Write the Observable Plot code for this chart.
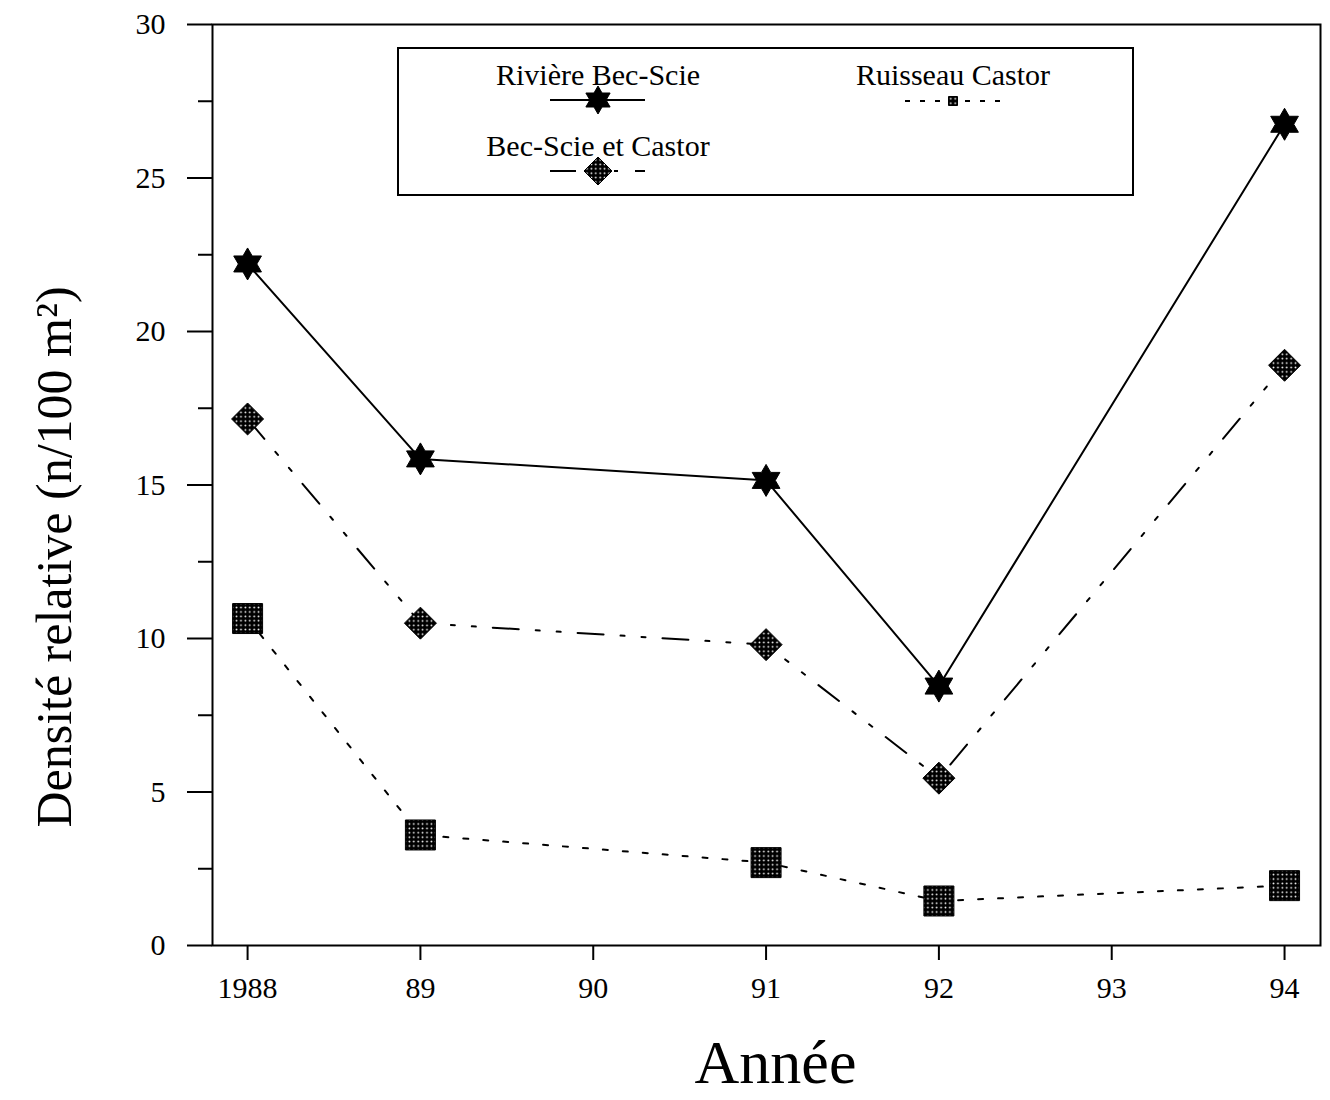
<!DOCTYPE html>
<html><head><meta charset="utf-8">
<script src="https://cdn.jsdelivr.net/npm/d3@7"></script>
<script src="https://cdn.jsdelivr.net/npm/@observablehq/plot@0.6"></script>
<style>body{margin:0;background:#fff}</style>
</head><body>
<svg width="0" height="0" style="position:absolute"><defs>
<pattern id="dither" width="4.4" height="4.4" patternUnits="userSpaceOnUse">
<rect width="4.4" height="4.4" fill="#000"/><circle cx="2.2" cy="2.2" r="0.9" fill="#fff"/></pattern>
</defs></svg>
<div id="chart"></div>
<script>
// ---- data ----
const years = [1988, 1989, 1991, 1992, 1994];
const becScie = [22.2, 15.85, 15.15, 8.45, 26.75];
const becScieCastor = [17.15, 10.5, 9.8, 5.45, 18.9];
const castor = [10.65, 3.6, 2.7, 1.45, 1.95];
const seriesNames = ["Rivière Bec-Scie", "Ruisseau Castor", "Bec-Scie et Castor"];
const xTicks = [1988, 1989, 1990, 1991, 1992, 1993, 1994];
const xTickLabels = ["1988", "89", "90", "91", "92", "93", "94"];
const yTicks = [0, 5, 10, 15, 20, 25, 30];
const yMinorTicks = [2.5, 7.5, 12.5, 17.5, 22.5, 27.5];
const xTitle = "Année";
const yTitle = "Densité relative (n/100 m²)";

// ---- symbols ----
const hexagram = {draw(ctx, size) {
  const R = Math.sqrt(size / Math.PI), r = R / Math.sqrt(3);
  for (let i = 0; i < 12; i++) {
    const a = Math.PI / 6 * i - Math.PI / 2, rr = i % 2 ? r : R;
    const x = rr * Math.cos(a), y = rr * Math.sin(a);
    i ? ctx.lineTo(x, y) : ctx.moveTo(x, y);
  }
  ctx.closePath();
}};
const diamond = {draw(ctx, size) {
  const R = Math.sqrt(size / Math.PI);
  ctx.moveTo(0, -R); ctx.lineTo(R, 0); ctx.lineTo(0, R); ctx.lineTo(-R, 0); ctx.closePath();
}};
const square = {draw(ctx, size) {
  const R = Math.sqrt(size / Math.PI);
  ctx.moveTo(-R, -R); ctx.lineTo(R, -R); ctx.lineTo(R, R); ctx.lineTo(-R, R); ctx.closePath();
}};

const series = [
  {name: seriesNames[0], values: becScie, dash: null, symbol: hexagram, fill: "black", r: 16},
  {name: seriesNames[1], values: castor, dash: "5,15", symbol: square, fill: "url(#dither)", r: 15},
  {name: seriesNames[2], values: becScieCastor, dash: "26,17,4,17,4,17", symbol: diamond, fill: "url(#dither)", r: 16}
];
const rows = series.flatMap(s => years.map((yr, i) => ({series: s.name, year: yr, value: s.values[i]})));

const marks = [Plot.frame({stroke: "black", strokeWidth: 2})];
for (const s of series) {
  const d = rows.filter(r => r.series === s.name);
  marks.push(Plot.line(d, {x: "year", y: "value", stroke: "black", strokeWidth: 2, strokeDasharray: s.dash || undefined}));
}
for (const s of series) {
  const d = rows.filter(r => r.series === s.name);
  marks.push(Plot.dot(d, {x: "year", y: "value", symbol: s.symbol, r: s.r, fill: s.fill, stroke: "black", strokeWidth: 1}));
}
marks.push(
  Plot.axisX({ticks: xTicks, tickFormat: d => xTickLabels[xTicks.indexOf(d)], tickSize: 15, tickPadding: 16, strokeWidth: 2, label: null, fontSize: 30}),
  Plot.axisY({ticks: yTicks, tickSize: 25, tickPadding: 22, strokeWidth: 2, label: null, fontSize: 30}),
  Plot.axisY({ticks: yMinorTicks, tickSize: 14, tickFormat: () => "", strokeWidth: 2, label: null}),
  Plot.text([xTitle], {frameAnchor: "bottom", text: d => d, dx: 9, dy: 118, fontSize: 62, lineAnchor: "middle", textAnchor: "middle"}),
  Plot.text([yTitle], {frameAnchor: "left", text: d => d, dx: -158, dy: 72, rotate: -90, fontSize: 50, lineAnchor: "middle", textAnchor: "middle"})
);

const plot = Plot.plot({
  width: 1330, height: 1100,
  marginLeft: 212, marginRight: 10, marginTop: 24, marginBottom: 155,
  x: {domain: [1987.797, 1994.208]},
  y: {domain: [0, 30]},
  style: {fontFamily: "Liberation Serif", fontSize: "30px", color: "black", background: "white"},
  marks
});
document.getElementById("chart").appendChild(plot);

// ---- legend ----
const svg = d3.select(plot);
const g = svg.append("g").attr("font-family", "Liberation Serif").attr("font-size", 30).attr("fill", "black");
g.append("rect").attr("x", 398).attr("y", 48).attr("width", 735).attr("height", 147)
  .attr("fill", "white").attr("stroke", "black").attr("stroke-width", 2);
const legendPos = [
  {cx: 598, ty: 85, ly: 100, x0: 550, x1: 645, r: 14},
  {cx: 953, ty: 85, ly: 101, x0: 905, x1: 1000, r: 4.5},
  {cx: 598, ty: 156, ly: 171, x0: 550, x1: 645, r: 14}
];
series.forEach((s, i) => {
  const p = legendPos[i];
  g.append("text").attr("x", p.cx).attr("y", p.ty).attr("text-anchor", "middle").text(s.name);
  g.append("line").attr("x1", p.x0).attr("x2", p.x1).attr("y1", p.ly).attr("y2", p.ly)
    .attr("stroke", "black").attr("stroke-width", 2).attr("stroke-dasharray", i === 1 ? "5,10" : s.dash);
  const path = d3.path();
  s.symbol.draw(path, Math.PI * p.r * p.r);
  g.append("path").attr("d", path.toString()).attr("transform", `translate(${p.cx},${p.ly})`)
    .attr("fill", s.fill).attr("stroke", "black").attr("stroke-width", 1);
});
</script>
</body></html>
